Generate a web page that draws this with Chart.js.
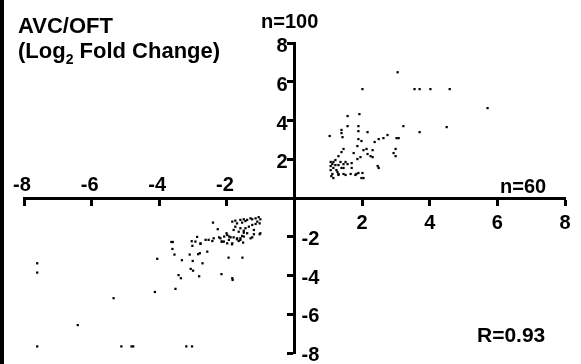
<!DOCTYPE html>
<html>
<head>
<meta charset="utf-8">
<script src="https://cdn.jsdelivr.net/npm/chart.js@4"></script>
<style>
html,body{margin:0;padding:0;background:#fff;}
#wrap{position:relative;width:581px;height:364px;}
</style>
</head>
<body>
<div id="wrap"><canvas id="c" width="581" height="364"></canvas></div>
<script>
// Upper-right quadrant points [x, y] (Log2 fold change)
const upX = [3.05,2.01,3.55,3.70,4.02,4.59,5.71,1.57,1.92,1.57,1.89,3.22,4.50,1.04,1.39,1.39,1.42,1.89,2.16,3.70,2.75,2.63,2.49,2.37,3.02,3.08,1.89,1.98,1.86,1.45,1.39,2.04,2.13,2.31,2.99,1.75,2.16,2.25,2.31,2.93,2.99,1.95,1.86,1.30,1.21,1.07,1.15,1.12,1.07,1.36,1.51,1.30,1.45,1.57,1.69,1.69,2.46,2.49,1.39,1.45,1.15,1.07,1.27,1.30,1.45,1.12,1.15,1.09,1.51,1.66,1.80,1.83,2.01,1.98,1.89,1.21,1.24,1.30,2.04];
const upY = [6.49,5.62,5.62,5.62,5.62,5.62,4.64,4.23,4.33,3.71,3.71,3.71,3.66,3.20,3.51,3.35,3.14,3.45,3.40,3.40,3.25,3.09,3.04,2.89,3.09,3.09,3.04,2.94,2.68,2.53,2.37,2.47,2.53,2.47,2.53,2.32,2.27,2.16,2.11,2.32,2.16,2.11,2.01,2.16,1.96,1.86,1.86,1.75,1.65,1.86,1.86,1.70,1.75,1.75,1.80,1.55,1.65,1.55,1.55,1.55,1.55,1.44,1.34,1.24,1.24,1.24,1.03,1.13,1.19,1.24,1.19,1.24,1.29,1.03,1.29,1.70,1.44,1.19,1.03];
// Lower-left quadrant points
const loX = [-7.61,-7.61,-7.61,-5.12,-4.82,-4.77,-3.20,-3.03,-6.41,-5.35,-4.13,-3.52,-4.06,-3.43,-3.36,-2.82,-2.16,-1.84,-1.83,-3.07,-3.00,-2.72,-3.33,-3.01,-3.55,-3.10,-2.85,-2.80,-2.58,-3.61,-3.64,-3.60,-3.02,-3.04,-2.78,-2.88,-2.54,-2.43,-2.23,-2.16,-2.09,-1.95,-1.54,-1.85,-2.08,-1.99,-2.01,-1.93,-1.80,-1.70,-1.65,-1.60,-1.52,-1.55,-1.50,-1.30,-1.25,-1.20,-1.03,-2.41,-2.27,-1.75,-1.84,-1.70,-1.60,-1.55,-1.50,-1.45,-1.40,-1.30,-1.25,-1.15,-1.06,-1.01,-1.10,-1.03,-1.15,-1.25,-1.35,-1.45,-1.60,-1.75,-1.80,-1.65,-1.50,-1.40,-1.20,-1.01,-1.50,-1.60,-1.70,-1.89,-2.14,-1.99,-1.84,-1.94,-2.19,-2.39,-2.63,-2.78,-2.93];
const loY = [-3.37,-3.85,-7.66,-7.66,-7.66,-7.66,-7.66,-7.66,-6.56,-5.17,-4.85,-4.69,-3.14,-3.98,-4.14,-4.04,-3.93,-4.14,-4.23,-3.66,-3.75,-3.37,-3.21,-3.25,-2.92,-2.92,-2.90,-2.85,-2.77,-2.63,-2.27,-2.27,-2.47,-2.23,-2.37,-2.01,-2.16,-2.22,-2.03,-2.25,-2.25,-3.08,-3.08,-2.39,-1.99,-1.91,-1.82,-1.99,-2.03,-2.08,-2.22,-2.16,-2.30,-1.96,-1.79,-2.08,-2.03,-1.87,-1.87,-1.27,-1.61,-1.17,-1.22,-1.31,-1.13,-1.27,-1.10,-1.19,-1.13,-1.05,-1.10,-1.05,-0.99,-1.10,-1.22,-1.31,-1.34,-1.39,-1.48,-1.56,-1.56,-1.48,-1.65,-1.74,-1.69,-1.82,-1.65,-1.82,-1.99,-2.08,-2.13,-2.03,-2.25,-2.34,-2.34,-2.16,-2.08,-2.08,-2.16,-2.34,-2.25];

const xTickLabels = ['-8','-6','-4','-2','2','4','6','8'];
const yTickLabels = ['8','6','4','2','-2','-4','-6','-8'];
const titleLine1 = 'AVC/OFT';
const titleLine2a = '(Log';
const titleSub = '2';
const titleLine2b = ' Fold Change)';
const nY = 'n=100';
const nX = 'n=60';
const rLabel = 'R=0.93';

const pts = [];
upX.forEach((v,i)=>pts.push({x:v,y:upY[i]}));
loX.forEach((v,i)=>pts.push({x:v,y:loY[i]}));

const FONT = '"Liberation Sans", Arial, sans-serif';

const decor = {
  id:'decor',
  beforeDraw(chart){
    const ctx = chart.ctx;
    ctx.save();
    ctx.fillStyle='#fff';
    ctx.fillRect(0,0,chart.width,chart.height);
    ctx.fillStyle='#000';
    ctx.fillRect(0,0,4,chart.height);
    ctx.restore();
  },
  afterDraw(chart){
    const ctx = chart.ctx;
    const xs = chart.scales.x, ys = chart.scales.y;
    const x0 = xs.getPixelForValue(0), y0 = ys.getPixelForValue(0);
    ctx.save();
    ctx.fillStyle='#000';
    ctx.font = 'bold 20px '+FONT;
    xTickLabels.forEach(l=>{
      const v = parseFloat(l);
      const px = xs.getPixelForValue(v);
      ctx.textAlign='center';
      ctx.textBaseline='alphabetic';
      if (v<0){ ctx.fillText(l, px-2, y0-7); }
      else { ctx.fillText(l, px, y0+31); }
    });
    yTickLabels.forEach(l=>{
      const v = parseFloat(l);
      const py = ys.getPixelForValue(v);
      ctx.textBaseline='alphabetic';
      if (v>0){ ctx.textAlign='right'; ctx.fillText(l, x0-7, py+9); }
      else { ctx.textAlign='left'; ctx.fillText(l, x0+7, py+8); }
    });
    ctx.textAlign='left';
    ctx.fillText(nY, 261, 28);
    ctx.fillText(nX, 500, 193);
    ctx.font = 'bold 21px '+FONT;
    ctx.fillText(rLabel, 477, 342);
    ctx.font = 'bold 22px '+FONT;
    ctx.fillText(titleLine1, 18, 33);
    let tx = 18;
    ctx.fillText(titleLine2a, tx, 58);
    tx += ctx.measureText(titleLine2a).width;
    ctx.font = 'bold 14px '+FONT;
    ctx.fillText(titleSub, tx, 64);
    tx += ctx.measureText(titleSub).width;
    ctx.font = 'bold 22px '+FONT;
    ctx.fillText(titleLine2b, tx, 58);
    ctx.restore();
  }
};

const axisCommon = {
  type:'linear', min:-8, max:8,
  ticks:{display:false, stepSize:2},
  grid:{drawOnChartArea:false, drawTicks:true, tickLength:6, tickWidth:3, tickColor:'#000'},
  border:{display:true, width:3, color:'#000'}
};

new Chart(document.getElementById('c'), {
  type:'scatter',
  data:{datasets:[{data:pts, pointStyle:'rect', pointRadius:1.6, pointHoverRadius:1.6, backgroundColor:'#000', borderColor:'#000', borderWidth:0}]},
  options:{
    responsive:false, animation:false,
    layout:{padding:{left:24,right:16,top:43,bottom:11}},
    plugins:{legend:{display:false}, tooltip:{enabled:false}},
    scales:{
      x:Object.assign({}, axisCommon, {position:{y:0}}),
      y:Object.assign({}, axisCommon, {position:{x:0}})
    }
  },
  plugins:[decor]
});
</script>
</body>
</html>
